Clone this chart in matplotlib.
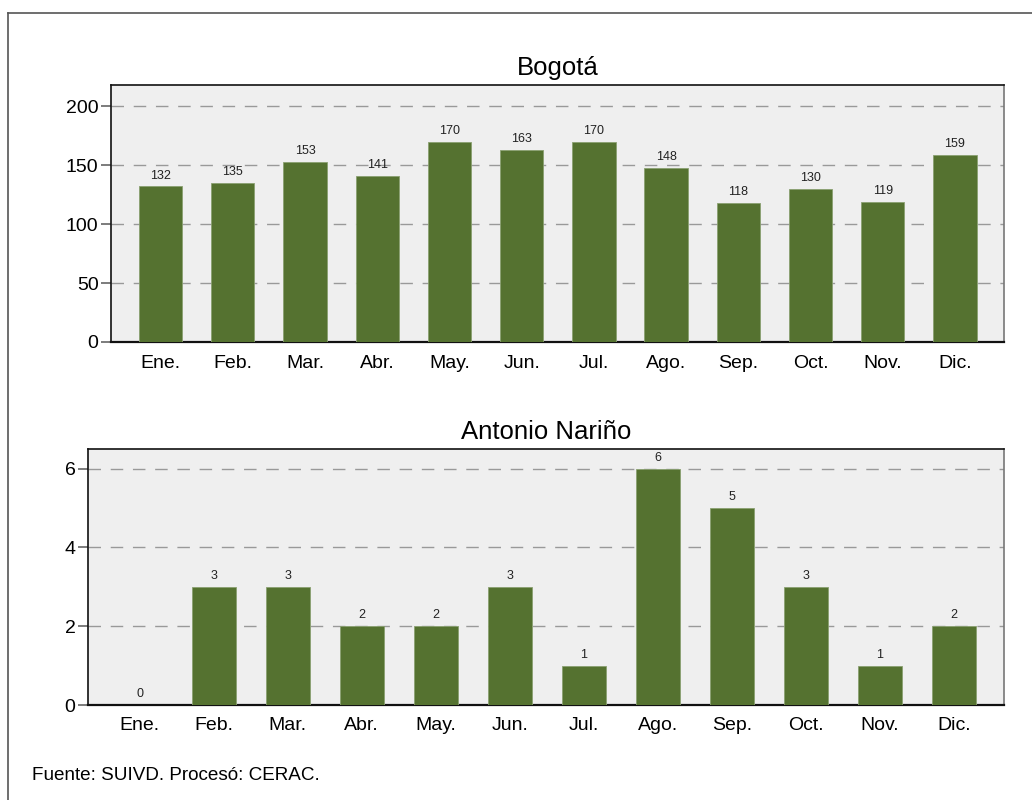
import numpy as np
import matplotlib.pyplot as plt
from matplotlib.lines import Line2D

plt.rcParams['font.family'] = ['Liberation Sans', 'DejaVu Sans']

months = ['Ene.', 'Feb.', 'Mar.', 'Abr.', 'May.', 'Jun.', 'Jul.', 'Ago.',
          'Sep.', 'Oct.', 'Nov.', 'Dic.']
bogota = [132, 135, 153, 141, 170, 163, 170, 148, 118, 130, 119, 159]
narino = [0, 3, 3, 2, 2, 3, 1, 6, 5, 3, 1, 2]

green = '#557230'
bg = '#efefef'

fig = plt.figure(figsize=(10.32, 8), dpi=100)

# marco exterior (solo izquierda y arriba visibles)
fig.add_artist(Line2D([0.0078, 0.0078], [0.0, 0.9838], color='#555555', lw=1.2))
fig.add_artist(Line2D([0.0078, 1.0], [0.9838, 0.9838], color='#555555', lw=1.2))


def panel(rect, vals, title, ylim, yticks, xlim):
    ax = fig.add_axes(rect)
    ax.set_facecolor(bg)
    x = np.arange(len(vals))
    ax.bar(x, vals, width=0.6, color=green, edgecolor='#8aa070', linewidth=0.6, zorder=3)
    for xi, v in zip(x, vals):
        ax.annotate(str(v), (xi, v), xytext=(0, 3.5), textcoords='offset points',
                    ha='center', va='bottom', fontsize=9, color='#222222')
    ax.set_xlim(*xlim)
    ax.set_ylim(*ylim)
    ax.set_yticks(yticks)
    ax.set_xticks(x)
    ax.set_xticklabels(months, fontsize=14)
    ax.tick_params(axis='x', length=0, pad=9)
    ax.tick_params(axis='y', length=7, width=1.2, color='#666666', labelsize=14, pad=2)
    ax.yaxis.grid(True, color='#999999', lw=1, dashes=(9, 7), zorder=1)
    ax.set_axisbelow(True)
    for s in ['left', 'top']:
        ax.spines[s].set_color('#111111')
        ax.spines[s].set_linewidth(1.2)
    ax.spines['right'].set_color('#777777')
    ax.spines['right'].set_linewidth(1.2)
    ax.spines['bottom'].set_color('#111111')
    ax.spines['bottom'].set_linewidth(1.6)
    ax.set_title(title, fontsize=18.5, pad=7)
    return ax


panel([0.1076, 0.5725, 0.8653, 0.3212], bogota, 'Bogotá', (0, 218),
      [0, 50, 100, 150, 200], (-0.686, 11.68))
panel([0.0853, 0.11875, 0.8876, 0.32], narino, 'Antonio Nariño', (0, 6.5),
      [0, 2, 4, 6], (-0.70, 11.68))

fig.text(0.031, 0.03, 'Fuente: SUIVD. Procesó: CERAC.', fontsize=13.6, va='center', ha='left')

plt.savefig('out.png', dpi=100)
